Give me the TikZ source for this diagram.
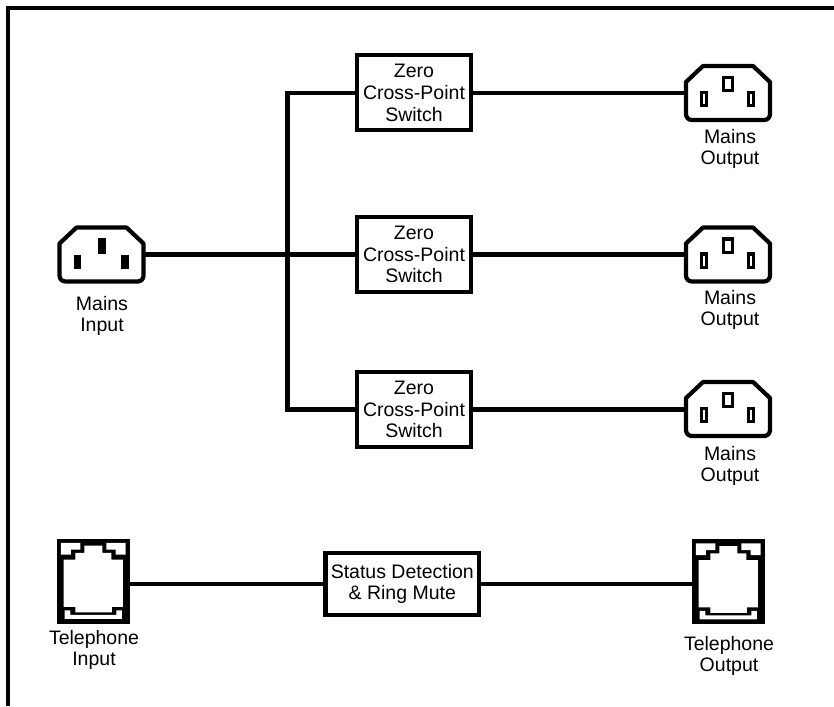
\documentclass[tikz,border=0pt]{standalone}
\usepackage{fontspec}
\setmainfont{Liberation Sans}
\tikzset{
  wire/.style={line width=4.2pt,line join=miter},
  swbox/.style={draw,line width=4.2pt,fill=white,minimum width=113.7pt,minimum height=74.7pt,inner sep=0pt,outer sep=0pt,align=center,font=\fontsize{19.5}{21.7}\selectfont},
  lbl/.style={align=center,inner sep=0pt,font=\fontsize{19.5}{21.7}\selectfont},
  socketslot/.style={minimum width=84pt,minimum height=54pt,inner sep=0pt,outer sep=0pt},
  phoneslot/.style={minimum width=72.7pt,minimum height=84.7pt,inner sep=0pt,outer sep=0pt},
  shell/.style={line width=4.2pt,line join=round,fill=white}
}
\newcommand{\shellshape}[1]{%
  \draw[shell,shift={(#1.center)}] (-25,-27) -- (25,-27) -- (42,-11) -- (42,21) .. controls (42,24.5) and (39.5,27) .. (36,27)
   -- (-36,27) .. controls (-39.5,27) and (-42,24.5) .. (-42,21) -- (-42,-11) -- cycle;}
\newcommand{\insocket}[1]{\shellshape{#1}%
  \begin{scope}[shift={(#1.center)}]
    \fill (-4,-16.5) rectangle (4,-0.5);
    \fill (-28,0) rectangle (-20.5,14);
    \fill (19.5,0) rectangle (27.5,14);
  \end{scope}}
\newcommand{\outsocket}[1]{\shellshape{#1}%
  \begin{scope}[shift={(#1.center)},line width=3.2pt]
    \draw (-4.4,-15.6) rectangle (4.4,-2.4);
    \draw (-26.6,-0.6) rectangle (-21.4,12.6);
    \draw (20.4,-0.6) rectangle (25.6,12.6);
  \end{scope}}
\newcommand{\phonejack}[1]{%
  \begin{scope}[shift={(#1.north west)},x=.33333pt,y=-.33333pt,shift={(-80,-118)}]
    \fill (80,118) rectangle (298,372);
    \fill[white] (92,130) -- (150,130) -- (150,150) -- (122,150) -- (122,165) -- (92,165) -- cycle;
    \fill[white] (286,130) -- (228,130) -- (228,150) -- (256,150) -- (256,165) -- (286,165) -- cycle;
    \fill[white] (100,180) -- (135,180) -- (135,160) -- (162,160) -- (162,138) -- (216,138) -- (216,160) -- (243,160) -- (243,180) -- (278,180) -- (278,322) -- (245,322) -- (245,338) -- (135,338) -- (135,322) -- (100,322) -- cycle;
    \fill[white] (103,332) -- (120,332) -- (120,346) -- (258,346) -- (258,332) -- (275,332) -- (275,358) -- (103,358) -- cycle;
  \end{scope}}
\begin{document}
\begin{tikzpicture}[x=1pt,y=-1pt]
\useasboundingbox (0,0) rectangle (834,706);
\fill[white] (0,0) rectangle (834,706);
\coordinate (fa) at (8,706);
\coordinate (fb) at (8,8);
\coordinate (fc) at (834,8);
\draw[line width=4.2pt] (fa) -- (fb) -- (fc);

\node[swbox] (sw1) at (414,92.7) {Zero\\Cross-Point\\Switch};
\node[swbox] (sw2) at (414,254.5) {Zero\\Cross-Point\\Switch};
\node[swbox] (sw3) at (414,409.5) {Zero\\Cross-Point\\Switch};
\node[swbox,minimum width=153.5pt,minimum height=62pt] (sd) at (402.3,584) {Status Detection\\\& Ring Mute};

\node[socketslot] (mi) at (101.5,254.5) {};
\node[socketslot] (mo1) at (728,93) {};
\node[socketslot] (mo2) at (728,254.5) {};
\node[socketslot] (mo3) at (728,409) {};
\node[phoneslot] (ti) at (93.3,581.3) {};
\node[phoneslot] (to) at (728.3,581.8) {};

\coordinate (jn) at (287.5,255);
\draw[wire] (mi.east) -- (sw2.west);
\draw[wire] (sw1.west) -| (jn) |- (sw3.west);
\draw[wire] (sw1.east) -- (mo1.west |- sw1.east);
\draw[wire] (sw2.east) -- (mo2.west |- sw2.east);
\draw[wire] (sw3.east) -- (mo3.west |- sw3.east);
\draw[wire] (ti.east |- sd.west) -- (sd.west);
\draw[wire] (sd.east) -- (to.west |- sd.east);

\insocket{mi}
\outsocket{mo1}
\outsocket{mo2}
\outsocket{mo3}
\phonejack{ti}
\phonejack{to}

\node[lbl] (lmi) at (102,316) {Mains\\Input};
\node[lbl] (lo1) at (730,149) {Mains\\Output};
\node[lbl] (lo2) at (730,310) {Mains\\Output};
\node[lbl] (lo3) at (730,466) {Mains\\Output};
\node[lbl] (lti) at (94,650) {Telephone\\Input};
\node[lbl] (lto) at (729,656) {Telephone\\Output};
\end{tikzpicture}
\end{document}
